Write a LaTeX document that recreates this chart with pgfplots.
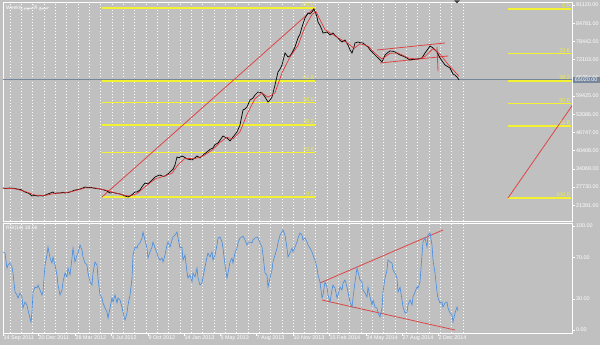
\documentclass[border=0pt]{standalone}
\usepackage{pgfplots}
\pgfplotsset{compat=1.18}
\usepackage{fontspec}
\setmainfont{Liberation Sans}
\newfontfamily\arabicfont[Script=Arabic]{DejaVu Sans}
\TeXXeTstate=1
\definecolor{bg}{RGB}{192,192,192}
\definecolor{fib}{RGB}{242,242,50}
\definecolor{cur}{RGB}{118,134,156}
\definecolor{rsiblue}{RGB}{66,140,228}
\definecolor{trend}{RGB}{222,70,70}
\definecolor{ma}{RGB}{232,40,40}
\newcommand{\mtfont}{\fontsize{5.4}{6}\selectfont}
\begin{document}
\begin{tikzpicture}[x=1pt,y=1pt]
\useasboundingbox (0,0) rectangle (600,345);
\fill[bg] (0,0) rectangle (600,345);
% ---------------- price panel ----------------
\begin{axis}[at={(3pt,124pt)}, anchor=south west, width=569pt, height=219pt, scale only axis,
  xmin=3, xmax=572, ymin=15886, ymax=92163, clip mode=individual,
  axis line style={white, line width=0.8pt},
  xtick={10,21.325,...,463}, xticklabels={}, xmajorgrids, xtick style={draw=none},
  major grid style={white, dash pattern=on 1.4pt off 1.6pt, line width=0.6pt},
  ytick={21391,27730,34069,40408,46747,53086,59425,65764,72103,78442,84781,91120},
  ytick pos=right, yticklabel pos=right, tick align=outside, major tick length=3pt,
  ytick style={white, line width=0.5pt}, scaled y ticks=false,
  y tick label style={font=\mtfont, text=white, inner sep=1pt},
  yticklabel style={/pgf/number format/.cd, fixed, fixed zerofill, precision=2, 1000 sep={}, assume math mode=true},
  unbounded coords=jump,
]
% Fibonacci levels (left and right retracements), one segment per level
\addplot[fib, line width=1.5pt] table {
102 24245
315 24245
nan nan
102 39781
315 39781
nan nan
102 49392
315 49392
nan nan
102 57160
315 57160
nan nan
102 64700
315 64700
nan nan
102 90074
315 90074
nan nan
508 89725
571 89725
nan nan
508 74190
571 74190
nan nan
508 64579
571 64579
nan nan
508 56811
571 56811
nan nan
508 49043
571 49043
nan nan
508 23897
571 23897
};
% current price line
\addplot[cur, line width=1pt] coordinates {(3,65100)(572,65100)};
% trend lines
\addplot[trend, line width=0.8pt] coordinates {(102,24245)(314,89900)};
\addplot[trend, line width=0.8pt] coordinates {(508,23897)(580,60005)};
\addplot[trend, line width=0.8pt] coordinates {(377,75445)(445,77883)};
\addplot[trend, line width=0.8pt] coordinates {(380,70917)(448,73355)};
\addplot[trend, line width=0.8pt] coordinates {(437,76490)(438,68130)};
% price
\addplot[black, line width=0.7pt] table {
3 27380
6 27200
10 27380
14 27250
17 27031
21 26800
25 25986
29 25500
32 24593
35 24800
38 24593
41 24700
43 24593
46 25000
48 25290
51 25700
53 25986
55 25400
57 25638
60 25638
63 25900
65 25638
68 25800
70 25986
73 26400
75 26683
78 26800
80 27031
83 27400
85 27728
88 27500
91 27600
93 27380
96 27200
100 27031
103 26800
107 26335
110 25638
113 25800
115 25638
118 25400
120 25290
123 24900
125 24593
128 24245
130 24593
133 25290
135 26000
137 25986
140 26683
142 27800
145 29121
148 28800
150 29469
153 30500
155 31211
158 31700
160 31907
163 31400
165 31559
168 32300
170 32952
173 33900
175 35390
177 38177
179 37900
182 38525
185 38000
187 37480
190 37300
192 37132
195 37900
197 38525
200 37829
203 38873
205 39400
207 39918
210 40800
213 41312
215 42500
218 43053
220 44000
223 45491
225 45100
227 44795
230 43750
233 45143
235 46000
237 46884
240 49322
243 54547
245 54900
247 55592
250 58030
253 58700
255 59771
258 60816
260 60700
262 60468
265 59075
268 57333
270 58000
272 59075
275 63254
278 67782
280 68800
282 70220
285 74400
288 73007
290 73400
292 74400
295 76490
298 79625
300 81000
302 83456
305 86591
308 88332
310 88000
312 88680
314 89725
316 88000
317 86939
318 85197
320 84000
322 82411
323 81366
325 81500
327 81714
330 80669
333 81366
335 80500
337 79973
340 78800
342 78231
345 78928
348 77186
350 75500
352 74400
354 76500
355 77883
358 78231
360 78000
363 77883
365 77300
368 76490
370 75500
373 74400
375 73700
378 72659
380 72000
382 71265
384 72800
385 73703
388 74600
390 75097
393 75000
395 74748
398 74100
400 73703
403 73300
405 73007
408 72400
410 71962
413 72200
417 72310
420 72500
422 72659
425 74400
428 75800
430 76838
433 76142
435 75500
437 74748
440 72659
443 71200
445 70220
448 69600
450 69176
453 67086
455 66700
457 66041
459 65020
};
% moving average
\addplot[ma, line width=0.6pt] table {
3 27300
15 27100
25 26200
35 24900
45 24800
55 25500
65 25700
75 26400
85 27400
95 27400
105 26700
115 25700
125 24800
130 24600
137 25400
145 27800
155 30500
165 31600
172 32500
178 35500
185 37700
195 37600
203 38500
213 40800
220 43300
227 45000
233 44500
240 47000
247 53000
255 58500
262 60500
268 59000
275 60500
282 67500
290 73000
298 77000
305 83500
312 87800
316 88800
320 86000
325 82500
332 81000
340 79300
348 77800
354 76000
360 77600
368 76800
375 74300
382 72300
390 74300
398 74400
408 72700
418 72200
425 73200
433 75900
440 74000
448 70500
459 66300
};
% fib labels
\tikzset{fl/.style={text=fib, font=\mtfont, anchor=south east, inner sep=1pt}}
\node[fl] at (axis cs:315,90074) {100.0};
\node[fl] at (axis cs:315,64700) {61.8};
\node[fl] at (axis cs:315,57160) {50.0};
\node[fl] at (axis cs:315,49392) {38.2};
\node[fl] at (axis cs:315,39781) {23.6};
\node[fl] at (axis cs:315,24245) {0.0};
\node[fl] at (axis cs:571,89725) {0.0};
\node[fl] at (axis cs:571,74190) {23.6};
\node[fl] at (axis cs:571,64579) {38.2};
\node[fl] at (axis cs:571,56811) {50.0};
\node[fl] at (axis cs:571,49043) {61.8};
\node[fl] at (axis cs:571,23897) {100.0};
% current price box
\node[fill=cur, text=white, font=\mtfont, anchor=west, inner xsep=1.5pt, inner ysep=1.4pt, minimum width=27pt] at (axis cs:572.5,65020) {65020.00};
% title
\node[anchor=north west, text=white, font=\fontsize{5}{5}\selectfont, inner sep=0pt] at ([xshift=3pt,yshift=-3pt]rel axis cs:0,1) {Weekly,{\arabicfont\beginR جميع الأسهم\endR}};
\end{axis}
\fill[gray!50!black] (454,344.5) -- (460,344.5) -- (457,341.5) -- cycle;
% ---------------- RSI panel ----------------
\begin{axis}[at={(3pt,12pt)}, anchor=south west, width=569pt, height=110pt, scale only axis,
  xmin=3, xmax=572, ymin=-2.88, ymax=102.9, clip mode=individual,
  axis line style={white, line width=0.8pt},
  xtick={3,38,75,111,148,184,220,256,293,329,366,402,438},
  xticklabels={14 Sep 2011,20 Dec 2011,28 Mar 2012,4 Jul 2012,9 Oct 2012,14 Jan 2013,5 May 2013,7 Aug 2013,10 Nov 2013,15 Feb 2014,24 May 2014,27 Aug 2014,2 Dec 2014},
  xtick pos=bottom, tick align=outside, major tick length=3pt,
  x tick label style={font=\mtfont, text=white, anchor=north west, inner sep=0.5pt, yshift=1pt},
  extra x ticks={10,21.325,...,463}, extra x tick labels={},
  extra x tick style={grid=major, major tick length=0pt},
  major grid style={white, dash pattern=on 1.4pt off 1.6pt, line width=0.6pt},
  tick style={white, line width=0.5pt},
  ytick={0,30,70,100}, yticklabels={0.00,30.00,70.00,100.00},
  ytick pos=right, yticklabel pos=right,
  y tick label style={font=\mtfont, text=white, inner sep=1pt},
]
\addplot[trend, line width=0.8pt] coordinates {(320,45.2)(443,96.2)};
\addplot[trend, line width=0.8pt] coordinates {(322,28.8)(455,0)};
\addplot[rsiblue, line width=0.6pt] table {
3 75.0
5 74.0
7 59.6
8 62.5
10 64.4
12 60.6
13 54.8
15 36.5
17 33.7
18 30.8
20 35.6
22 31.7
23 21.2
25 26.9
27 24.0
28 19.2
30 11.5
31 7.7
32 17.3
33 36.5
35 41.3
37 40.4
38 43.3
40 38.5
42 33.7
43 36.5
45 62.5
47 72.1
48 79.8
50 69.2
52 64.4
53 70.2
55 62.5
57 52.9
58 43.3
60 33.7
62 38.5
63 46.2
65 54.8
67 51.0
68 59.6
70 52.9
72 69.2
73 78.8
75 65.4
77 72.1
78 74.0
80 81.7
82 76.9
83 70.2
85 64.4
87 62.5
88 54.8
90 46.2
92 43.3
93 54.8
95 65.4
97 62.5
98 50.0
100 33.7
102 30.8
103 26.0
105 21.2
107 17.3
108 11.5
110 21.2
112 30.8
113 26.9
115 33.7
117 26.0
118 30.8
120 28.8
122 22.1
123 17.3
125 9.6
127 16.3
128 24.0
130 33.7
132 50.0
133 72.1
135 79.8
137 78.8
138 81.7
140 83.7
142 88.5
143 94.2
145 86.5
147 78.8
148 69.2
150 75.0
152 79.8
153 84.6
155 78.8
157 74.0
158 70.2
160 67.3
162 69.2
163 65.4
165 72.1
167 81.7
168 84.6
170 79.8
172 86.5
173 89.4
175 91.3
177 94.2
178 88.5
180 78.8
182 79.8
183 67.3
185 72.1
187 55.8
188 50.0
190 52.9
192 46.2
193 54.8
195 51.0
197 59.6
198 50.0
200 43.3
202 45.2
203 51.0
205 60.6
207 70.2
208 74.0
210 70.2
212 75.0
213 67.3
215 72.1
217 81.7
218 88.5
220 89.4
222 84.6
223 78.8
225 62.5
227 50.0
228 54.8
230 65.4
232 69.2
233 64.4
235 74.0
237 78.8
238 83.7
240 88.5
242 89.4
243 90.4
245 86.5
247 81.7
248 83.7
250 84.6
252 83.7
253 86.5
255 88.5
257 89.4
258 88.5
260 83.7
262 79.8
263 72.1
265 54.8
267 52.9
268 41.3
270 50.0
272 57.7
273 65.4
275 72.1
277 78.8
278 83.7
280 91.3
282 94.2
283 96.2
285 91.3
287 78.8
288 70.2
290 74.0
292 78.8
293 75.0
295 79.8
297 84.6
298 88.5
300 93.3
302 91.3
303 86.5
305 88.5
307 84.6
308 81.7
310 78.8
312 75.0
313 72.1
315 67.3
317 59.6
318 52.9
320 46.2
322 30.8
323 33.7
325 46.2
327 41.3
328 33.7
330 26.9
332 38.5
333 43.3
335 40.4
337 30.8
338 33.7
340 41.3
342 38.5
343 45.2
345 48.1
347 41.3
348 36.5
350 26.9
352 22.1
353 30.8
355 46.2
357 59.6
358 55.8
360 48.1
362 46.2
363 38.5
365 35.6
367 31.7
368 41.3
370 31.7
372 24.0
373 28.8
375 22.1
377 21.2
378 16.3
380 12.5
382 21.2
383 36.5
385 50.0
387 57.7
388 67.3
390 65.4
392 64.4
393 57.7
395 54.8
397 50.0
398 36.5
400 41.3
402 28.8
403 22.1
405 16.3
407 17.3
408 24.0
410 28.8
412 24.0
413 31.7
415 36.5
417 41.3
418 40.4
420 46.2
422 72.1
423 84.6
425 88.5
427 79.8
428 91.3
430 93.3
432 81.7
433 67.3
435 54.8
437 36.5
438 30.8
440 26.0
442 26.9
443 22.1
445 26.0
447 26.9
448 21.2
450 16.3
452 14.4
453 7.7
455 16.3
457 22.1
458 18.1
};
\node[anchor=north west, text=white, font=\fontsize{5}{5}\selectfont, inner sep=0pt] at ([xshift=3pt,yshift=-3pt]rel axis cs:0,1) {RSI(14) 18.06};
\end{axis}
\end{tikzpicture}
\end{document}
